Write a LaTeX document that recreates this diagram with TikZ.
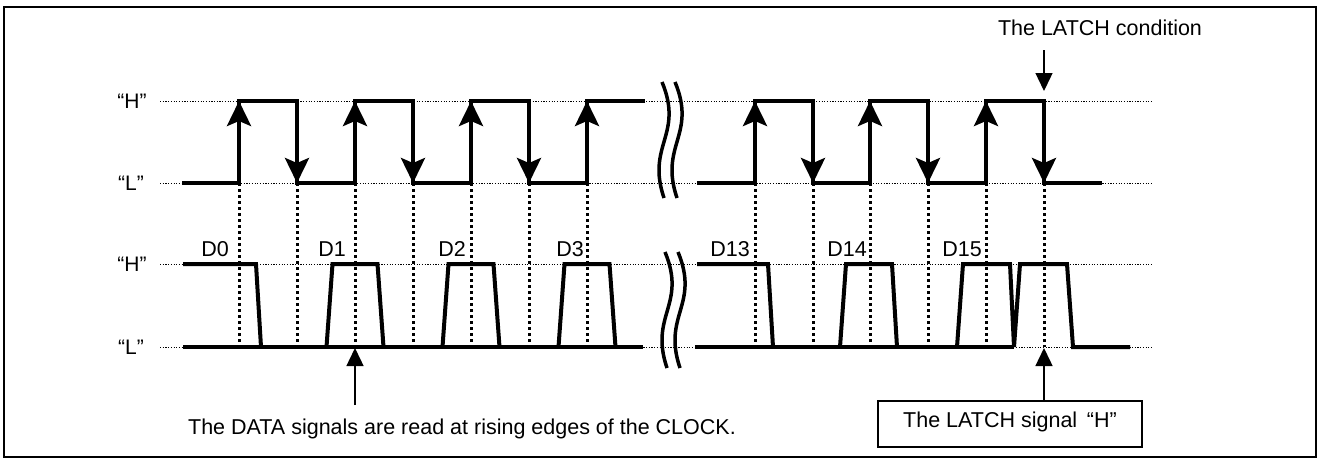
\documentclass[tikz,border=0pt]{standalone}
\usepackage{fontspec}
\setmainfont{Liberation Sans}
\usetikzlibrary{arrows.meta}
\begin{document}
\begin{tikzpicture}[x=1pt,y=-1pt,
  sig/.style={line width=4pt, line join=miter, line cap=butt},
  refline/.style={line width=1pt, dash pattern=on 1.2pt off 1.5pt},
  vguide/.style={line width=3pt, dash pattern=on 3pt off 3pt},
  edgearrow/.style={line width=4pt, -{Stealth[length=25pt,width=24pt,inset=5pt]}},
  pointer/.style={line width=1.4pt, -{Triangle[length=18pt,width=17pt]}},
  lbl/.style={font=\fontsize{21.5}{25}\selectfont, inner sep=0pt},
  lvl/.style={font=\fontsize{21}{25}\selectfont, inner sep=0pt},
  brk/.style={line width=3.5pt},
]
\useasboundingbox (0,0) rectangle (1320,461);
\draw[line width=2pt] (4,7) rectangle (1316,457);

% reference levels
\foreach \yy in {101,183,264,347} \draw[refline] (160,\yy) -- (1153,\yy);
\node[lvl] (ch) at (132,101) {“H”};
\node[lvl] (cl) at (131,183) {“L”};
\node[lvl] (dh) at (132,264) {“H”};
\node[lvl] (dl) at (131,347) {“L”};

% vertical guides at clock edges
\foreach \xx in {239,297,355,413,471,529,587,755,813,870,928,986,1044}
  \draw[vguide] (\xx,183) -- (\xx,347);

% clock, left part
\draw[sig] (182,183) -- (239,183) -- (239,101) -- (297,101) -- (297,183) -- (355,183)
  -- (355,101) -- (413,101) -- (413,183) -- (471,183) -- (471,101) -- (529,101)
  -- (529,183) -- (587,183) -- (587,101) -- (645,101);
% clock, right part
\draw[sig] (697,183) -- (755,183) -- (755,101) -- (813,101) -- (813,183) -- (870,183)
  -- (870,101) -- (928,101) -- (928,183) -- (986,183) -- (986,101) -- (1044,101)
  -- (1044,183) -- (1102,183);
% edge arrows
\foreach \xx in {239,355,471,587,755,870,986} \draw[edgearrow] (\xx,183) -- (\xx,101);
\foreach \xx in {297,413,529,813,928,1044} \draw[edgearrow] (\xx,101) -- (\xx,183);

% data, left part
\draw[sig] (183,347) -- (643,347);
\draw[sig] (183,264) -- (256,264) -- (261,347);
\foreach \xx in {355,471,587}
  \draw[sig] (\xx-28.5,347) -- (\xx-22.5,264) -- (\xx+22.5,264) -- (\xx+28.5,347);
% data, right part
\draw[sig] (695,347) -- (1014,347);
\draw[sig] (697,264) -- (768,264) -- (773,347);
\draw[sig] (840,347) -- (846,264) -- (892,264) -- (897,347);
\draw[sig] (957,347) -- (963,264) -- (1010,264) -- (1014,347) -- (1020,264)
  -- (1067,264) -- (1073,347) -- (1130,347);

% bit labels
\node[lbl, anchor=base] (d0) at (215,256) {D0};
\node[lbl, anchor=base] (d1) at (332,256) {D1};
\node[lbl, anchor=base] (d2) at (452,256) {D2};
\node[lbl, anchor=base] (d3) at (570,256) {D3};
\node[lbl, anchor=base] (d13) at (730,256) {D13};
\node[lbl, anchor=base] (d14) at (847,256) {D14};
\node[lbl, anchor=base] (d15) at (962,256) {D15};

% break marks
\foreach \sh in {{(0,0)},{(13,0)},{(3,170)},{(16,170)}}
  \draw[brk, shift=\sh] (662,82) .. controls (684,135) and (646,145) .. (664,198);

% annotations
\node[lbl, anchor=base] (cond) at (1100,35) {The LATCH condition};
\coordinate (condtail) at (1044,50);
\coordinate (condtip) at (1044,91);
\draw[pointer] (condtail) -- (condtip);

\node[lbl, anchor=base] (readnote) at (462,434) {The DATA signals are read at rising edges of the CLOCK.};
\coordinate (readtail) at (355,405);
\coordinate (readtip) at (355,348);
\draw[pointer] (readtail) -- (readtip);

\node[lbl, draw, line width=1.4pt, minimum width=264pt, minimum height=46pt,
  text height=15pt, text depth=9pt] (latchbox) at (1010,424) {The LATCH signal\hspace{0.45em}“H”};
\coordinate (latchtip) at (1044,348);
\draw[pointer] (latchbox.north -| latchtip) -- (latchtip);
\end{tikzpicture}
\end{document}
